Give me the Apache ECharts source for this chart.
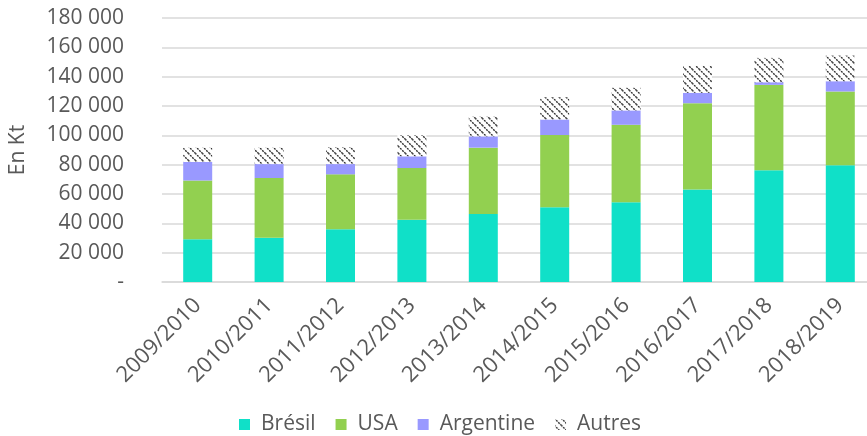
<!DOCTYPE html>
<html lang="fr">
<head>
    <meta charset="UTF-8">
    <title>Production</title>
    <script src="https://cdn.jsdelivr.net/npm/echarts@6/dist/echarts.min.js"></script>
    <style>
        html, body { margin: 0; padding: 0; background: #fff; overflow: hidden; }
        #chart { width: 876px; height: 436px; }
    </style>
</head>
<body>
<div id="chart"></div>
<script>
    // campagnes
    const categories = ['2009/2010', '2010/2011', '2011/2012', '2012/2013', '2013/2014',
        '2014/2015', '2015/2016', '2016/2017', '2017/2018', '2018/2019'];
    // valeurs en Kt
    const bresil = [29200, 30100, 36000, 42400, 46400, 51000, 54400, 63000, 76200, 79600];
    const usa = [40000, 40800, 37400, 35300, 45200, 49200, 52800, 58900, 58200, 50300];
    const argentine = [12600, 9500, 7000, 8000, 7700, 10600, 9800, 7100, 1800, 7000];
    const autres = [9800, 11200, 11600, 14500, 13400, 15200, 15400, 18300, 16600, 17500];

    // motif hachuré pour "Autres"
    function hatch() {
        const c = document.createElement('canvas');
        c.width = 7; c.height = 7;
        const ctx = c.getContext('2d');
        ctx.fillStyle = '#fff';
        ctx.fillRect(0, 0, 7, 7);
        ctx.strokeStyle = '#303030';
        ctx.lineWidth = 1.4;
        ctx.setLineDash([2, 1]);
        ctx.beginPath();
        ctx.moveTo(-1, -1); ctx.lineTo(8, 8);
        ctx.moveTo(-5, 2); ctx.lineTo(4, 11);
        ctx.moveTo(2, -5); ctx.lineTo(11, 4);
        ctx.stroke();
        return c;
    }

    const font = 'Open Sans, Liberation Sans, sans-serif';
    let myChart = echarts.init(document.getElementById('chart'));

    function serie(name, data, color) {
        return {
            name: name,
            type: 'bar',
            stack: 'total',
            barWidth: 29,
            data: data,
            itemStyle: { color: color },
            emphasis: { disabled: true }
        };
    }

    let option = {
        animation: false,
        textStyle: { fontFamily: font },
        grid: { left: 160, top: 18, right: 0, height: 264 },
        legend: {
            bottom: -4,
            left: 234,
            itemWidth: 11,
            itemHeight: 11,
            itemGap: 20,
            icon: 'rect',
            formatter: name => '{t|' + name + '}',
            textStyle: {
                fontSize: 21, color: '#595959', fontFamily: font,
                rich: { t: { fontSize: 21, color: '#595959', fontFamily: font, padding: [0, 0, 0, 6] } }
            },
            data: ['Brésil', 'USA', 'Argentine', 'Autres']
        },
        xAxis: {
            type: 'category',
            data: categories,
            axisTick: { show: false },
            axisLine: { lineStyle: { color: '#d9d9d9', width: 1.5 } },
            axisLabel: { rotate: 45, fontSize: 22, color: '#595959', margin: 20, fontFamily: font }
        },
        yAxis: {
            type: 'value',
            min: 0,
            max: 180000,
            interval: 20000,
            name: 'En Kt',
            nameLocation: 'middle',
            nameGap: 133,
            nameTextStyle: { fontSize: 21, color: '#595959', fontFamily: font },
            splitLine: { lineStyle: { color: '#d9d9d9', width: 1.5 } },
            axisLabel: {
                fontSize: 21,
                color: '#595959',
                margin: 38,
                fontFamily: font,
                formatter: v => v === 0 ? '-' : String(v).replace(/\B(?=(\d{3})+(?!\d))/g, ' ')
            }
        },
        series: [
            serie('Brésil', bresil, '#10e0c8'),
            serie('USA', usa, '#92d050'),
            serie('Argentine', argentine, '#9999ff'),
            serie('Autres', autres, { image: hatch(), repeat: 'repeat' })
        ]
    };
    myChart.setOption(option);
</script>
</body>
</html>
